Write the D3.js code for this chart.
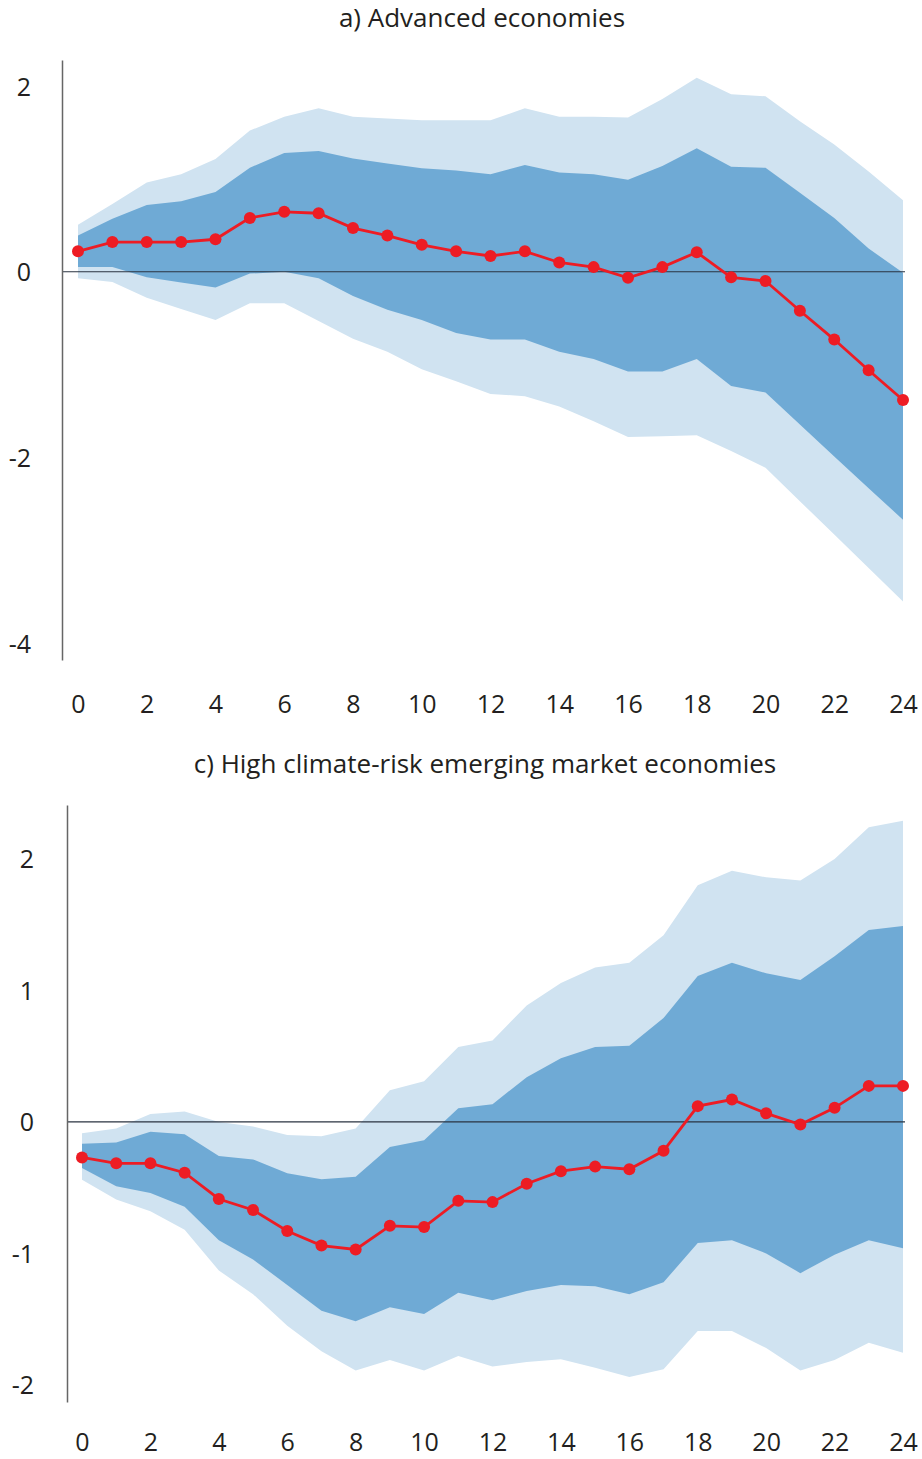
<!DOCTYPE html>
<html>
<head>
<meta charset="utf-8">
<script src="https://cdn.jsdelivr.net/npm/d3@7"></script>
<style>
    body { margin: 0; background: #fff; }
    svg { display: block; }
    .tick text { font-family: "Open Sans", sans-serif; font-size: 25px; fill: #231f20; }
    .title { font-family: "Open Sans", sans-serif; font-size: 26px; fill: #231f20; }
</style>
</head>
<body>
<svg id="chart" width="922" height="1459"></svg>
<script>
// horizons (quarters after shock)
const horizons = d3.range(0, 25);
const xTicks = d3.range(0, 25, 2);

// a) Advanced economies
const advPoint = [0.22, 0.32, 0.32, 0.32, 0.35, 0.58, 0.645, 0.63, 0.47, 0.39, 0.29, 0.22, 0.17,
    0.22, 0.10, 0.05, -0.065, 0.05, 0.21, -0.06, -0.10, -0.42, -0.73, -1.06, -1.38];
const advInnerHi = [0.39, 0.57, 0.72, 0.76, 0.86, 1.12, 1.28, 1.30, 1.22, 1.165, 1.115, 1.09, 1.05,
    1.15, 1.07, 1.05, 0.99, 1.14, 1.33, 1.13, 1.12, 0.85, 0.58, 0.25, -0.01];
const advInnerLo = [0.05, 0.05, -0.06, -0.115, -0.17, -0.02, 0.0, -0.07, -0.26, -0.41, -0.52, -0.66, -0.73,
    -0.73, -0.86, -0.94, -1.075, -1.075, -0.94, -1.23, -1.30, -1.645, -1.99, -2.33, -2.67];
const advOuterHi = [0.505, 0.73, 0.96, 1.05, 1.215, 1.52, 1.67, 1.76, 1.67, 1.65, 1.63, 1.63, 1.63,
    1.76, 1.67, 1.67, 1.66, 1.86, 2.09, 1.91, 1.89, 1.62, 1.37, 1.08, 0.77];
const advOuterLo = [-0.07, -0.11, -0.28, -0.40, -0.52, -0.34, -0.34, -0.53, -0.72, -0.86, -1.05, -1.18, -1.315,
    -1.34, -1.45, -1.61, -1.78, -1.77, -1.76, -1.93, -2.11, -2.47, -2.83, -3.19, -3.55];
const advYTicks = [-4, -2, 0, 2];

// c) High climate-risk emerging market economies
const emPoint = [-0.27, -0.315, -0.315, -0.386, -0.586, -0.67, -0.83, -0.94, -0.97, -0.79, -0.80, -0.60, -0.61,
    -0.47, -0.375, -0.34, -0.36, -0.22, 0.12, 0.17, 0.065, -0.02, 0.107, 0.274, 0.274];
const emInnerHi = [-0.167, -0.157, -0.074, -0.094, -0.26, -0.285, -0.39, -0.437, -0.417, -0.19, -0.14, 0.104, 0.135,
    0.34, 0.485, 0.57, 0.58, 0.79, 1.11, 1.21, 1.13, 1.08, 1.26, 1.46, 1.49];
const emInnerLo = [-0.35, -0.49, -0.54, -0.645, -0.90, -1.046, -1.24, -1.437, -1.516, -1.41, -1.46, -1.30, -1.356,
    -1.285, -1.24, -1.25, -1.31, -1.22, -0.92, -0.90, -1.0, -1.15, -1.01, -0.90, -0.96];
const emOuterHi = [-0.086, -0.05, 0.06, 0.08, 0.0, -0.035, -0.10, -0.11, -0.05, 0.24, 0.31, 0.57, 0.62,
    0.886, 1.056, 1.175, 1.21, 1.42, 1.80, 1.91, 1.86, 1.835, 2.0, 2.24, 2.29];
const emOuterLo = [-0.44, -0.59, -0.68, -0.82, -1.13, -1.31, -1.55, -1.745, -1.89, -1.81, -1.89, -1.78, -1.86,
    -1.825, -1.805, -1.87, -1.94, -1.88, -1.59, -1.59, -1.72, -1.89, -1.81, -1.68, -1.755];
const emYTicks = [-2, -1, 0, 1, 2];

const lightBlue = "#d0e3f1";
const midBlue = "#6faad5";
const red = "#ed1c24";

const svg = d3.select("#chart");

function drawPanel(cfg) {
    const g = svg.append("g");

    const x = d3.scaleLinear().domain([0, 24]).range([cfg.left, 903]);
    const y = d3.scaleLinear().domain(cfg.yDomain).range([cfg.bottom, cfg.top]);

    const rows = horizons.map((h, i) => ({
        h: h, p: cfg.point[i],
        iHi: cfg.innerHi[i], iLo: cfg.innerLo[i],
        oHi: cfg.outerHi[i], oLo: cfg.outerLo[i]
    }));

    // bands
    g.append("path")
        .datum(rows)
        .attr("fill", lightBlue)
        .attr("d", d3.area().x(d => x(d.h)).y0(d => y(d.oLo)).y1(d => y(d.oHi)));

    g.append("path")
        .datum(rows)
        .attr("fill", midBlue)
        .attr("d", d3.area().x(d => x(d.h)).y0(d => y(d.iLo)).y1(d => y(d.iHi)));

    // zero line
    g.append("line")
        .attr("x1", cfg.axisX).attr("x2", x(24) + 2)
        .attr("y1", y(0)).attr("y2", y(0))
        .attr("stroke", "#2a3340")
        .attr("stroke-width", 1.2);

    // y axis (plain hyphen minus like the original)
    const yAxis = g.append("g")
        .attr("transform", `translate(${cfg.axisX},0)`)
        .call(d3.axisLeft(y).tickValues(cfg.yTicks).tickFormat(d => String(d))
            .tickSize(0).tickPadding(cfg.axisX - cfg.labelRight));
    yAxis.select(".domain").attr("stroke", "#666").attr("stroke-width", 1.5);
    yAxis.selectAll(".tick text").attr("dy", "0.36em");

    // x axis
    const xAxis = g.append("g")
        .attr("transform", `translate(0,${cfg.xAxisY})`)
        .call(d3.axisBottom(x).tickValues(xTicks).tickSize(0).tickPadding(0));
    xAxis.select(".domain").remove();

    // point estimate
    g.append("path")
        .datum(rows)
        .attr("fill", "none")
        .attr("stroke", red)
        .attr("stroke-width", 2.8)
        .attr("d", d3.line().x(d => x(d.h)).y(d => y(d.p)));

    g.selectAll("circle.pt")
        .data(rows)
        .join("circle")
        .attr("class", "pt")
        .attr("cx", d => x(d.h))
        .attr("cy", d => y(d.p))
        .attr("r", 6)
        .attr("fill", red);

    // title
    g.append("text")
        .attr("class", "title")
        .attr("x", cfg.titleX)
        .attr("y", cfg.titleY)
        .attr("text-anchor", "middle")
        .text(cfg.title);
}

drawPanel({
    title: "a) Advanced economies",
    titleX: 482, titleY: 27,
    point: advPoint, innerHi: advInnerHi, innerLo: advInnerLo, outerHi: advOuterHi, outerLo: advOuterLo,
    yTicks: advYTicks,
    yDomain: [-4.18, 2.28], top: 60, bottom: 660,
    left: 78, axisX: 62, labelRight: 31,
    xAxisY: 695
});

drawPanel({
    title: "c) High climate-risk emerging market economies",
    titleX: 485, titleY: 773,
    point: emPoint, innerHi: emInnerHi, innerLo: emInnerLo, outerHi: emOuterHi, outerLo: emOuterLo,
    yTicks: emYTicks,
    yDomain: [-2.13, 2.41], top: 805, bottom: 1402,
    left: 82, axisX: 67, labelRight: 34,
    xAxisY: 1433
});
</script>
</body>
</html>
